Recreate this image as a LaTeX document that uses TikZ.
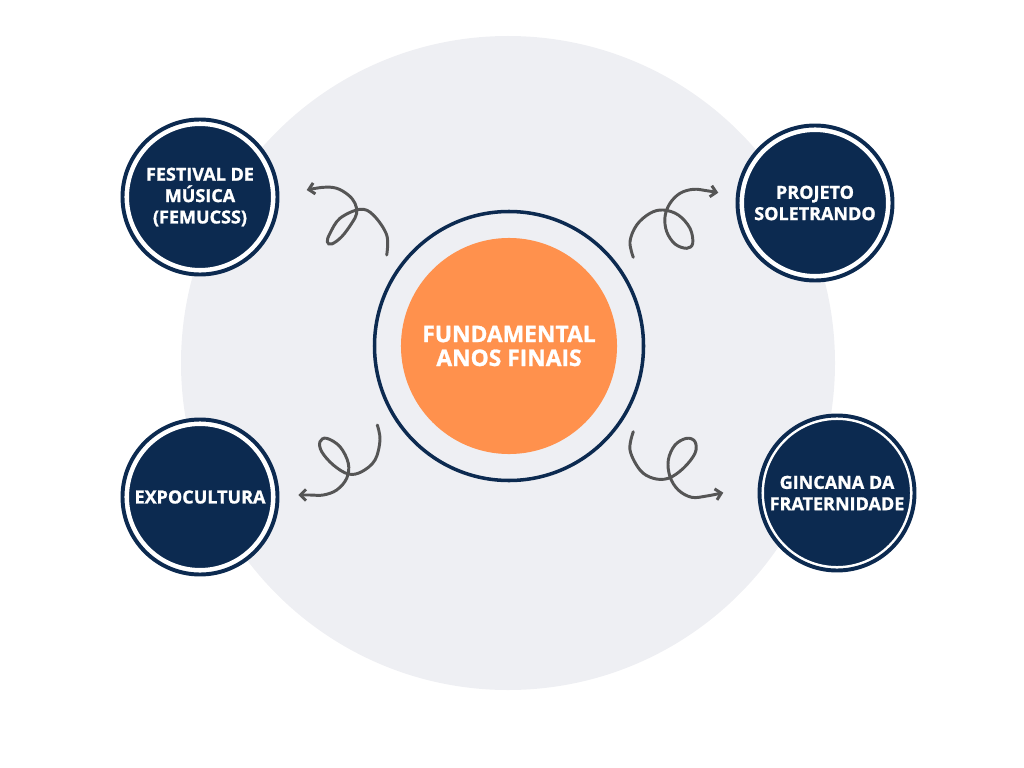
\documentclass[tikz,border=0pt]{standalone}
\usepackage{fontspec}
\setmainfont{Open Sans}[BoldFeatures={FakeBold=1.2}]
\usetikzlibrary{arrows.meta}
\definecolor{navy}{HTML}{0C2A50}
\definecolor{peach}{HTML}{FF914D}
\definecolor{haze}{HTML}{EEEFF3}
\definecolor{ink}{HTML}{555555}
\tikzset{
  bubble/.style={circle,fill=navy,draw=white,line width=3.2pt,minimum size=3.66cm,
    text=white,align=center,font=\bfseries\fontsize{12.8}{15.2}\selectfont},
  hub/.style={circle,fill=peach,minimum size=5.4cm,text=white,align=center,
    font=\bfseries\fontsize{16.2}{17}\selectfont},
  ring/.style={draw=navy,line width=2.8pt},
  swirl/.style={draw=ink,line width=2.1pt,line cap=round,-{Straight Barb[length=4pt,width=8pt]}}
}
\newcommand{\swirl}[1]{\draw[swirl] plot [smooth,tension=0.6] coordinates {#1};}

\begin{document}
\begin{tikzpicture}[x=0.025cm,y=-0.025cm]
  \useasboundingbox (0,0) rectangle (1024,768);
  \fill[haze] (508,363) circle (327);
  % centre
  \node[hub] (hub) at (509,346) {FUNDAMENTAL\\ANOS FINAIS};
  \draw[ring,line width=2.5pt] (hub) circle (134.5);
  % projects
  \node[bubble] (fest) at (200,197) {FESTIVAL DE\\MÚSICA\\(FEMUCSS)};
  \node[bubble] (solet) at (815,203) {PROJETO\\SOLETRANDO};
  \node[bubble] (expo) at (200,497) {EXPOCULTURA};
  \node[bubble] (ginc) at (837,493) {GINCANA DA\\FRATERNIDADE};
  \foreach \n in {fest,solet,expo,ginc}
    \draw[ring] (\n) circle (77.5);
  % swirly arrows
  \swirl{(386.7,255) (386.7,235) (373.3,215) (360,209.3) (340,218.3) (330,233.3) (327.3,241.7) (331.7,244) (341.7,236.7) (351.7,223.3) (356.7,213.3) (355,203.3) (348.3,195) (336.7,188.3) (323.3,187.3) (306.7,190)}
  \swirl{(633.3,257.3) (630,241.7) (636.7,225) (650,213.3) (663.3,210) (678.3,215) (690,228.3) (692.7,243.3) (686.7,248.3) (675,244) (666.7,231.7) (665,216.7) (670,203.3) (680,193.3) (693.3,189.3) (706.7,190.7) (718.3,192.7)}
  \swirl{(377.3,425) (380,440) (375,460) (361.7,471.7) (348.3,474) (333.3,465) (321.7,451.7) (320,441.7) (326.7,438.3) (340,446.7) (348.3,463.3) (346.7,478.3) (336.7,490) (323.3,495) (310,495) (298.3,495)}
  \swirl{(633.3,431.7) (630,450) (640,470) (653.3,478.3) (668.3,478.3) (683.3,468.3) (695,453.3) (695,441.7) (686.7,438.3) (675,445) (668.3,460) (670,476.7) (678.3,490) (691.7,497.3) (706.7,496) (723.3,492.7)}
\end{tikzpicture}
\end{document}
